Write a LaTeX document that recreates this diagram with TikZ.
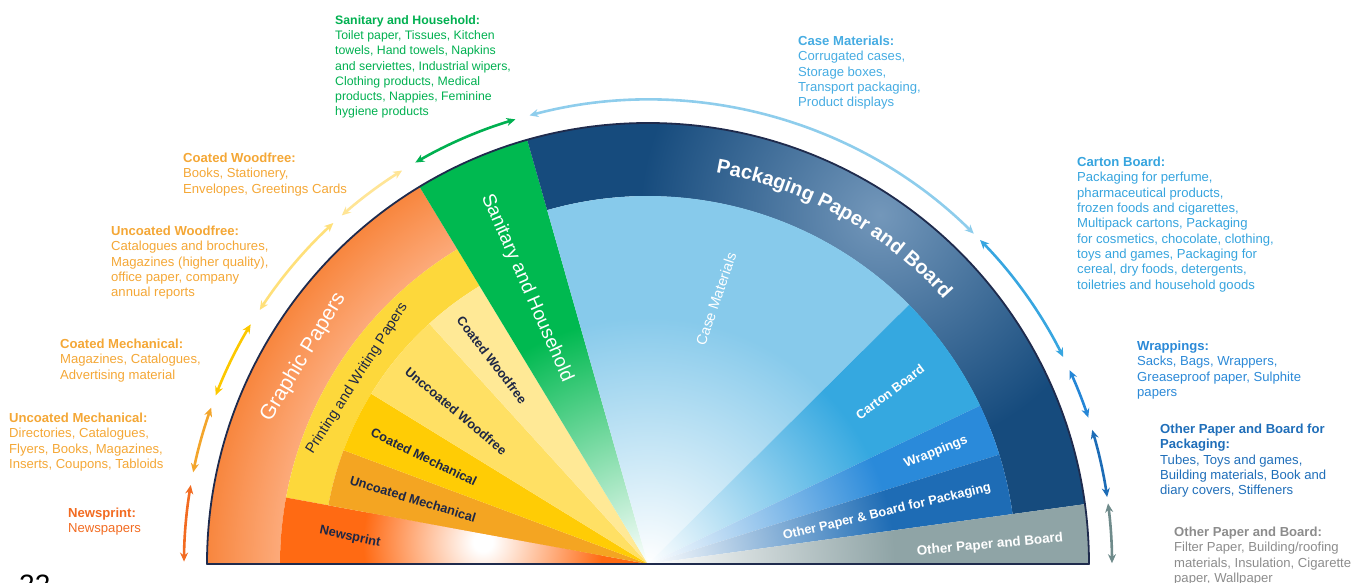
\documentclass[tikz,border=0pt]{standalone}
\usepackage{fontspec}
\setmainfont{Liberation Sans}
\usetikzlibrary{arrows.meta,decorations.text}
% fills
\definecolor{oDark}{HTML}{F8863E}
\definecolor{oLight}{HTML}{FCAA7A}
\definecolor{newsO}{HTML}{FF6A13}
\definecolor{ringY}{HTML}{FDD83B}
\definecolor{umC}{HTML}{F4A522}
\definecolor{cmC}{HTML}{FFCC05}
\definecolor{uwC}{HTML}{FFE064}
\definecolor{cwC}{HTML}{FFE996}
\definecolor{cGreen}{HTML}{00B950}
\definecolor{bDark}{HTML}{164B7D}
\definecolor{bLight}{HTML}{7397BA}
\definecolor{cCase}{HTML}{87CAEB}
\definecolor{cCart}{HTML}{35A8E0}
\definecolor{cWrap}{HTML}{2A8ADA}
\definecolor{cOpk}{HTML}{1E6CB5}
\definecolor{cGrey}{HTML}{8FA4A6}
\definecolor{outl}{HTML}{1F2B4D}
\definecolor{labnavy}{HTML}{1E2745}
% arrows
\definecolor{aNews}{HTML}{F26B21}
\definecolor{aUM}{HTML}{F3A52B}
\definecolor{aCM}{HTML}{FCC800}
\definecolor{aUW}{HTML}{FFE07A}
\definecolor{aCW}{HTML}{FFE596}
\definecolor{aSan}{HTML}{00B050}
\definecolor{aCase}{HTML}{8ECDEC}
\definecolor{aCart}{HTML}{38A6E0}
\definecolor{aWrap}{HTML}{2586D6}
\definecolor{aOpk}{HTML}{1D6CB6}
\definecolor{aOth}{HTML}{6F8B8B}
% texts
\definecolor{tNews}{HTML}{F26B21}
\definecolor{tYel}{HTML}{F4A736}
\definecolor{tSan}{HTML}{00B050}
\definecolor{tCase}{HTML}{46ACE2}
\definecolor{tCart}{HTML}{36A4DE}
\definecolor{tWrap}{HTML}{2B89D7}
\definecolor{tOpk}{HTML}{1F6EB9}
\definecolor{tOth}{HTML}{8C8C8C}
% shadings
\pgfdeclareradialshading{ringO}{\pgfpointorigin}{color(0bp)=(oLight); color(20.86bp)=(oLight); color(25bp)=(oDark); color(50bp)=(oDark)}
\pgfdeclareradialshading{spotN}{\pgfpointorigin}{color(0bp)=(white); color(2bp)=(white); color(25bp)=(newsO); color(50bp)=(newsO)}
\pgfdeclareradialshading{spotB}{\pgfpointorigin}{color(0bp)=(bLight); color(25bp)=(bDark); color(50bp)=(bDark)}
\pgfdeclareradialshading{fadeG}{\pgfpointorigin}{color(0bp)=(white); color(14bp)=(cGreen); color(50bp)=(cGreen)}
\pgfdeclareradialshading{fadeCase}{\pgfpointorigin}{color(0bp)=(white); color(14bp)=(cCase); color(50bp)=(cCase)}
\pgfdeclareradialshading{fadeCart}{\pgfpointorigin}{color(0bp)=(white); color(14bp)=(cCart); color(50bp)=(cCart)}
\pgfdeclareradialshading{fadeWrap}{\pgfpointorigin}{color(0bp)=(white); color(14bp)=(cWrap); color(50bp)=(cWrap)}
\pgfdeclareradialshading{fadeOpk}{\pgfpointorigin}{color(0bp)=(white); color(14bp)=(cOpk); color(50bp)=(cOpk)}
\pgfdeclareradialshading{fadeGrey}{\pgfpointorigin}{color(0bp)=(white); color(14bp)=(cGrey); color(50bp)=(cGrey)}

\begin{document}
\begin{tikzpicture}[x=1pt,y=1pt,
  desc/.style={anchor=north west, inner sep=0pt, align=left, font=\fontsize{13.1}{15.3}\selectfont},
  descs/.style={desc, font=\fontsize{12.3}{15.3}\selectfont},
  inlab/.style={inner sep=0pt, font=\bfseries\fontsize{12.8}{14}\selectfont, text=labnavy},
  wlab/.style={inner sep=0pt, text=white},
  arr/.style={line width=2.6pt, {Stealth[length=9pt,width=8pt]}-{Stealth[length=9pt,width=8pt]}}]
\useasboundingbox (-648,-18) rectangle (720,564);

% ---------- Graphic papers side ----------
\begin{scope}
\clip (121.2:368) -- (121.2:441) arc[start angle=121.2, end angle=180, radius=441] -- (180:368) arc[start angle=180, end angle=121.2, radius=368] -- cycle;
\shade[shading=ringO] (0,0) circle[radius=441];
\end{scope}
\fill[ringY] (121.2:325) -- (121.2:368) arc[start angle=121.2, end angle=169.6, radius=368] -- (169.6:325) arc[start angle=169.6, end angle=121.2, radius=325] -- cycle;
\fill[newsO] (0,0) -- (169.6:368) arc[start angle=169.6, end angle=180, radius=368] -- cycle;
\begin{scope}
\clip (0,0) -- (169.6:368) arc[start angle=169.6, end angle=180, radius=368] -- cycle;
\shade[shading=spotN] (-165,22) circle[radius=120];
\end{scope}
\fill[umC] (0,0) -- (159.5:325) arc[start angle=159.5, end angle=169.6, radius=325] -- cycle;
\fill[cmC] (0,0) -- (148.4:325) arc[start angle=148.4, end angle=159.5, radius=325] -- cycle;
\fill[uwC] (0,0) -- (132.3:325) arc[start angle=132.3, end angle=148.4, radius=325] -- cycle;
\fill[cwC] (0,0) -- (121.2:325) arc[start angle=121.2, end angle=132.3, radius=325] -- cycle;

% ---------- Sanitary ----------
\begin{scope}
\clip (0,0) -- (105.9:441) arc[start angle=105.9, end angle=121.2, radius=441] -- cycle;
\shade[shading=fadeG] (0,0) circle[radius=441];
\end{scope}

% ---------- Packaging side ----------
\fill[bDark] (7.8:368) -- (7.8:441) arc[start angle=7.8, end angle=105.9, radius=441] -- (105.9:368) arc[start angle=105.9, end angle=7.8, radius=368] -- cycle;
\begin{scope}
\clip (7.8:368) -- (7.8:441) arc[start angle=7.8, end angle=105.9, radius=441] -- (105.9:368) arc[start angle=105.9, end angle=7.8, radius=368] -- cycle;
\shade[shading=spotB] (232,349) circle[radius=240];
\end{scope}
\begin{scope}
\clip (0,0) -- (44.8:368) arc[start angle=44.8, end angle=105.9, radius=368] -- cycle;
\shade[shading=fadeCase] (0,0) circle[radius=441];
\end{scope}
\begin{scope}
\clip (0,0) -- (25.5:368) arc[start angle=25.5, end angle=44.8, radius=368] -- cycle;
\shade[shading=fadeCart] (0,0) circle[radius=441];
\end{scope}
\begin{scope}
\clip (0,0) -- (17.3:368) arc[start angle=17.3, end angle=25.5, radius=368] -- cycle;
\shade[shading=fadeWrap] (0,0) circle[radius=441];
\end{scope}
\begin{scope}
\clip (0,0) -- (7.8:368) arc[start angle=7.8, end angle=17.3, radius=368] -- cycle;
\shade[shading=fadeOpk] (0,0) circle[radius=441];
\end{scope}
\begin{scope}
\clip (0,0) -- (0:441) arc[start angle=0, end angle=7.8, radius=441] -- cycle;
\shade[shading=fadeGrey] (0,0) circle[radius=441];
\end{scope}

% outline
\draw[outl, line width=1.8pt, line join=round] (0:441) arc[start angle=0, end angle=180, radius=441] -- cycle;

% ---------- labels inside ----------
\node[wlab, rotate=59, font=\fontsize{21}{24}\selectfont] (lGP) at (149:402) {Graphic Papers};
\node[inner sep=0pt, text=labnavy, rotate=57.5, font=\fontsize{14.5}{16}\selectfont] (lPW) at (147.5:345) {Printing and Writing Papers};
\node[inlab, rotate=-52.5] (lCW) at (-156,204) {Coated Woodfree};
\node[inlab, rotate=-40] (lUW) at (-192,153) {Unccoated Woodfree};
\node[inlab, rotate=-26] (lCM) at (-224,107) {Coated Mechanical};
\node[inlab, rotate=-17] (lUM) at (-235,65) {Uncoated Mechanical};
\node[inlab, rotate=-12] (lNP) at (-298,27) {Newsprint};
\node[wlab, rotate=-66.3, font=\fontsize{19}{22}\selectfont] (lSH) at (-121,276) {Sanitary and Household};
\node[wlab, rotate=71, font=\fontsize{14.5}{16}\selectfont] (lCase) at (68,265) {Case Materials};
\node[wlab, rotate=37, font=\bfseries\fontsize{12.8}{14}\selectfont] (lCart) at (242,172) {Carton Board};
\node[wlab, rotate=22, font=\bfseries\fontsize{13}{14}\selectfont] (lWrap) at (288,112) {Wrappings};
\node[wlab, rotate=13.3, font=\bfseries\fontsize{12.7}{14}\selectfont] (lOpk) at (239,52) {Other Paper \& Board for Packaging};
\node[wlab, rotate=5.3, font=\bfseries\fontsize{13.4}{14}\selectfont] (lOth) at (342,19) {Other Paper and Board};
\path[decorate, decoration={text along path, text align=center,
  text={|\color{white}\bfseries\fontsize{20}{24}\selectfont|Packaging Paper and Board}}]
  (81:397) arc[start angle=81, end angle=41, radius=397];

% ---------- arrows ----------
\coordinate (cNews) at (179.7:464);
\coordinate (cUM) at (168.6:464);
\coordinate (cCM) at (158.7:464);
\coordinate (cUW) at (146.8:464);
\coordinate (cCW) at (131.3:464);
\coordinate (cSan) at (120.1:464);
\coordinate (cCase) at (104.8:464);
\coordinate (cCart) at (44.3:464);
\coordinate (cWrap) at (24.7:464);
\coordinate (cOpk) at (16.8:464);
\coordinate (cOth) at (7.5:464);
\draw[arr, aNews] (cNews) arc[start angle=179.7, end angle=170.2, radius=464];
\draw[arr, aUM] (cUM) arc[start angle=168.6, end angle=160.3, radius=464];
\draw[arr, aCM] (cCM) arc[start angle=158.7, end angle=148.9, radius=464];
\draw[arr, aUW] (cUW) arc[start angle=146.8, end angle=132.7, radius=464];
\draw[arr, aCW] (cCW) arc[start angle=131.3, end angle=122.0, radius=464];
\draw[arr, aSan] (cSan) arc[start angle=120.1, end angle=106.6, radius=464];
\draw[arr, aCase] (cCase) arc[start angle=104.8, end angle=45.4, radius=464];
\draw[arr, aCart] (cCart) arc[start angle=44.3, end angle=26.5, radius=464];
\draw[arr, aWrap] (cWrap) arc[start angle=24.7, end angle=18.4, radius=464];
\draw[arr, aOpk] (cOpk) arc[start angle=16.8, end angle=8.3, radius=464];
\draw[arr, aOth] (cOth) arc[start angle=7.5, end angle=0.1, radius=464];

% ---------- descriptions ----------
\node[descs, text=tSan] (dSan) at (-313,549) {\textbf{Sanitary and Household:}\\Toilet paper, Tissues, Kitchen\\towels, Hand towels, Napkins\\and serviettes, Industrial wipers,\\Clothing products, Medical\\products, Nappies, Feminine\\hygiene products};
\node[desc, text=tCase] (dCase) at (150,528) {\textbf{Case Materials:}\\Corrugated cases,\\Storage boxes,\\Transport packaging,\\Product displays};
\node[desc, text=tCart] (dCart) at (429,407) {\textbf{Carton Board:}\\Packaging for perfume,\\pharmaceutical products,\\frozen foods and cigarettes,\\Multipack cartons, Packaging\\for cosmetics, chocolate, clothing,\\toys and games, Packaging for\\cereal, dry foods, detergents,\\toiletries and household goods};
\node[desc, text=tWrap] (dWrap) at (489,223) {\textbf{Wrappings:}\\Sacks, Bags, Wrappers,\\Greaseproof paper, Sulphite\\papers};
\node[desc, text=tOpk] (dOpk) at (512,140) {\textbf{Other Paper and Board for}\\\textbf{Packaging:}\\Tubes, Toys and games,\\Building materials, Book and\\diary covers, Stiffeners};
\node[desc, text=tOth] (dOth) at (526,37) {\textbf{Other Paper and Board:}\\Filter Paper, Building/roofing\\materials, Insulation, Cigarette\\paper, Wallpaper};
\node[desc, text=tYel] (dCW) at (-465,411) {\textbf{Coated Woodfree:}\\Books, Stationery,\\Envelopes, Greetings Cards};
\node[desc, text=tYel] (dUW) at (-537,338) {\textbf{Uncoated Woodfree:}\\Catalogues and brochures,\\Magazines (higher quality),\\office paper, company\\annual reports};
\node[desc, text=tYel] (dCM) at (-588,225) {\textbf{Coated Mechanical:}\\Magazines, Catalogues,\\Advertising material};
\node[desc, text=tYel] (dUM) at (-639,151) {\textbf{Uncoated Mechanical:}\\Directories, Catalogues,\\Flyers, Books, Magazines,\\Inserts, Coupons, Tabloids};
\node[desc, text=tNews] (dNews) at (-580,56) {\textbf{Newsprint:}\\Newspapers};
\node[anchor=north west, inner sep=0pt, font=\fontsize{28}{30}\selectfont] (pg) at (-629,-11) {22};
\end{tikzpicture}
\end{document}
